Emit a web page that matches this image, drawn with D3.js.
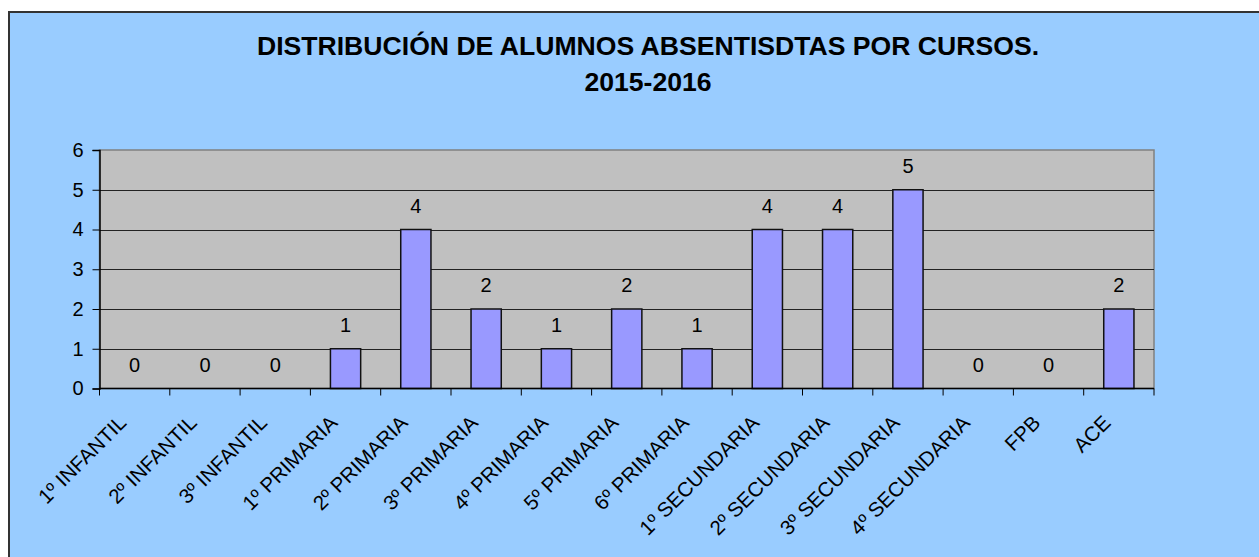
<!DOCTYPE html>
<html>
<head>
<meta charset="utf-8">
<script src="https://cdn.jsdelivr.net/npm/d3@7"></script>
<style>
  body { margin: 0; background: #fff; }
  svg { display: block; font-family: Arial, "Liberation Sans", sans-serif; }
</style>
</head>
<body>
<svg width="1259" height="557"></svg>
<script>
var categories = ["1º INFANTIL", "2º INFANTIL", "3º INFANTIL", "1º PRIMARIA", "2º PRIMARIA",
  "3º PRIMARIA", "4º PRIMARIA", "5º PRIMARIA", "6º PRIMARIA", "1º SECUNDARIA",
  "2º SECUNDARIA", "3º SECUNDARIA", "4º SECUNDARIA", "FPB", "ACE"];
var values = [0, 0, 0, 1, 4, 2, 1, 2, 1, 4, 4, 5, 0, 0, 2];
var yTicks = [0, 1, 2, 3, 4, 5, 6];
var titleLines = ["DISTRIBUCIÓN DE ALUMNOS ABSENTISDTAS POR CURSOS.", "2015-2016"];

var rows = categories.map(function(c, i) { return { cat: c, val: values[i] }; });

var svg = d3.select("svg");
var plotL = 99.5, plotR = 1154, plotT = 150, plotB = 388.5;

// chart area background + border
svg.append("rect")
  .attr("x", 9).attr("y", 12)
  .attr("width", 1300).attr("height", 600)
  .attr("fill", "#99ccff")
  .attr("stroke", "#333").attr("stroke-width", 2);

svg.selectAll(".title")
  .data(titleLines)
  .enter()
  .append("text")
  .attr("x", 648)
  .attr("y", function(d, i) { return 55 + i * 36; })
  .attr("text-anchor", "middle")
  .attr("font-size", "26.6px")
  .attr("font-weight", "bold")
  .text(function(d) { return d; });

var x = d3.scaleBand().domain(categories).range([plotL, plotR]).paddingInner(0.57).paddingOuter(0.285);
var xb = d3.scaleBand().domain(categories).range([plotL, plotR]);
var y = d3.scaleLinear().domain([0, 6]).range([plotB, plotT]);

// plot area
svg.append("rect")
  .attr("x", plotL).attr("y", plotT)
  .attr("width", plotR - plotL).attr("height", plotB - plotT)
  .attr("fill", "#c0c0c0")
  .attr("stroke", "#808080").attr("stroke-width", 1.5);

// gridlines
svg.append("g")
  .selectAll("line")
  .data(yTicks.filter(function(d) { return d > 0 && d < 6; }))
  .enter()
  .append("line")
  .attr("x1", plotL).attr("x2", plotR)
  .attr("y1", function(d) { return Math.round(y(d)) + 0.5; })
  .attr("y2", function(d) { return Math.round(y(d)) + 0.5; })
  .attr("stroke", "#222").attr("stroke-width", 1);

// bars
svg.append("g")
  .selectAll("rect")
  .data(rows.filter(function(d) { return d.val > 0; }))
  .enter()
  .append("rect")
  .attr("x", function(d) { return x(d.cat); })
  .attr("y", function(d) { return y(d.val); })
  .attr("width", x.bandwidth())
  .attr("height", function(d) { return y(0) - y(d.val); })
  .attr("fill", "#9999ff")
  .attr("stroke", "#111").attr("stroke-width", 1.5);

// value labels
svg.append("g")
  .selectAll("text")
  .data(rows)
  .enter()
  .append("text")
  .attr("x", function(d) { return xb(d.cat) + xb.bandwidth() / 2; })
  .attr("y", function(d) { return y(d.val) - 17; })
  .attr("text-anchor", "middle")
  .attr("font-size", "20px")
  .text(function(d) { return d.val; });

// y axis
var yAxis = svg.append("g")
  .attr("transform", "translate(" + plotL + ",0)")
  .call(d3.axisLeft(y).tickValues(yTicks).tickSize(7).tickPadding(9).tickFormat(d3.format("d")));
yAxis.select(".domain").attr("stroke", "#000").attr("stroke-width", 1.5);
yAxis.selectAll(".tick line").attr("stroke", "#000");
yAxis.selectAll(".tick text").attr("font-size", "20px").attr("fill", "#000")
  .attr("font-family", "Arial, 'Liberation Sans', sans-serif");

// x axis, ticks on category boundaries
var xAxisG = svg.append("g");
xAxisG.append("line")
  .attr("x1", plotL).attr("x2", plotR)
  .attr("y1", plotB).attr("y2", plotB)
  .attr("stroke", "#000").attr("stroke-width", 1.5);
xAxisG.selectAll(".bt")
  .data(categories.concat(["_end"]))
  .enter()
  .append("line")
  .attr("x1", function(d, i) { return i < categories.length ? xb(d) : plotR; })
  .attr("x2", function(d, i) { return i < categories.length ? xb(d) : plotR; })
  .attr("y1", plotB).attr("y2", plotB + 7)
  .attr("stroke", "#000");

xAxisG.selectAll(".lbl")
  .data(categories)
  .enter()
  .append("text")
  .attr("transform", function(d) {
    return "translate(" + (xb(d) + xb.bandwidth() / 2 - 7) + "," + 424 + ") rotate(-45)";
  })
  .attr("text-anchor", "end")
  .attr("font-size", "20.5px")
  .text(function(d) { return d; });
</script>
</body>
</html>
